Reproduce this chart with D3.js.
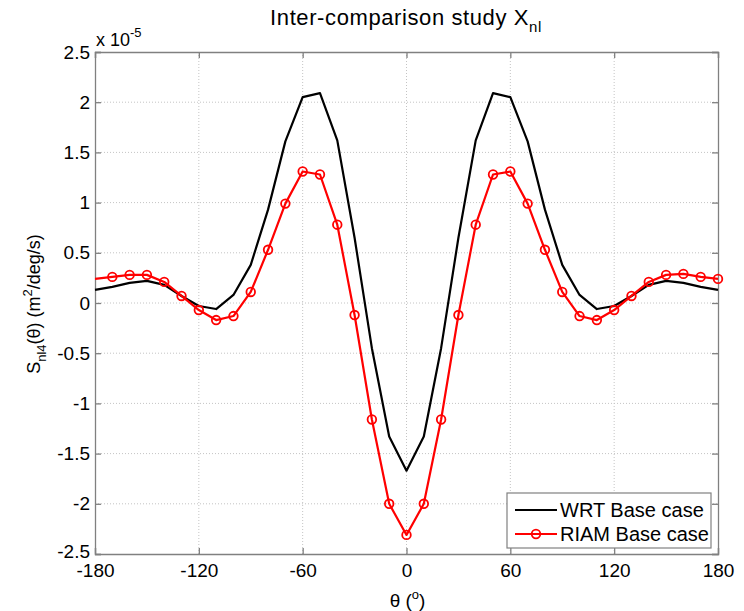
<!DOCTYPE html>
<html>
<head>
<meta charset="utf-8">
<script src="https://cdn.jsdelivr.net/npm/d3@7"></script>
<style>
  body { margin: 0; background: #fff; }
  svg text { font-family: "Liberation Sans", Arial, sans-serif; fill: #000; }
</style>
</head>
<body>
<script>
(function(){

//angles (deg) and the two series, values in units of 1e-5
var angles = [-180,-170,-160,-150,-140,-130,-120,-110,-100,-90,-80,-70,-60,-50,-40,-30,-20,-10,0,
              10,20,30,40,50,60,70,80,90,100,110,120,130,140,150,160,170,180];
var wrtValues = [0.13,0.16,0.20,0.22,0.18,0.07,-0.03,-0.06,0.08,0.38,0.93,1.61,2.05,2.09,1.62,0.65,-0.45,-1.33,-1.67,
                 -1.33,-0.45,0.65,1.62,2.09,2.05,1.61,0.93,0.38,0.08,-0.06,-0.03,0.07,0.18,0.22,0.20,0.16,0.13];
var riamValues = [0.24,0.26,0.28,0.28,0.21,0.07,-0.07,-0.17,-0.13,0.11,0.53,0.99,1.31,1.28,0.78,-0.12,-1.16,-2.0,-2.31,
                  -2.0,-1.16,-0.12,0.78,1.28,1.31,0.99,0.53,0.11,-0.13,-0.17,-0.07,0.07,0.21,0.28,0.29,0.26,0.24];
var xTicks = [-180,-120,-60,0,60,120,180];
var yTicks = [-2.5,-2,-1.5,-1,-0.5,0,0.5,1,1.5,2,2.5];
var seriesNames = ["WRT Base case", "RIAM Base case"];

var width = 744, height = 611;
var margin = {left: 95, right: 26, top: 52, bottom: 57};

var svg = d3.select("body").append("svg")
    .attr("width", width)
    .attr("height", height);

var x = d3.scaleLinear().domain([-180, 180]).range([margin.left, width - margin.right]);
var y = d3.scaleLinear().domain([-2.5, 2.5]).range([height - margin.bottom, margin.top]);

var x0 = x.range()[0], x1 = x.range()[1], y0 = y.range()[0], y1 = y.range()[1];

//grid lines (dotted)
svg.selectAll(".gx").data(xTicks.slice(1, -1)).enter().append("line")
    .attr("x1", function(d){ return x(d); }).attr("x2", function(d){ return x(d); })
    .attr("y1", y0).attr("y2", y1)
    .attr("stroke", "#c4c4c4").attr("stroke-width", 1).attr("stroke-dasharray", "1,2");
svg.selectAll(".gy").data(yTicks.slice(1, -1)).enter().append("line")
    .attr("y1", function(d){ return y(d); }).attr("y2", function(d){ return y(d); })
    .attr("x1", x0).attr("x2", x1)
    .attr("stroke", "#c4c4c4").attr("stroke-width", 1).attr("stroke-dasharray", "1,2");

//axes with inward ticks on all four sides
var fmt = function(d){ return String(d); };
var axB = svg.append("g").attr("transform", "translate(0," + y0 + ")")
    .call(d3.axisBottom(x).tickValues(xTicks).tickSize(-6).tickPadding(10).tickFormat(fmt));
var axT = svg.append("g").attr("transform", "translate(0," + y1 + ")")
    .call(d3.axisTop(x).tickValues(xTicks).tickSize(-6).tickFormat(""));
var axL = svg.append("g").attr("transform", "translate(" + x0 + ",0)")
    .call(d3.axisLeft(y).tickValues(yTicks).tickSize(-6).tickPadding(5).tickFormat(fmt));
var axR = svg.append("g").attr("transform", "translate(" + x1 + ",0)")
    .call(d3.axisRight(y).tickValues(yTicks).tickSize(-6).tickFormat(""));

[axB, axT, axL, axR].forEach(function(a){
  a.selectAll("path").attr("stroke", "#808080").attr("stroke-width", 1.3);
  a.selectAll("line").attr("stroke", "#808080").attr("stroke-width", 1.3);
  a.selectAll("text").attr("font-size", 19).style("font-family", "Liberation Sans, Arial, sans-serif").attr("fill", "#000");
});
axB.selectAll("text").attr("dy", "0.71em");
//the lowest y label sits just above the first x label, as in the original
axL.selectAll("text").filter(function(d){ return d === -2.5; }).attr("dy", "0.2em");

//series
var pts = function(vals){ return angles.map(function(a, i){ return {a: a, v: vals[i]}; }); };
var line = d3.line().x(function(d){ return x(d.a); }).y(function(d){ return y(d.v); });

svg.append("path").datum(pts(wrtValues))
    .attr("fill", "none").attr("stroke", "#000").attr("stroke-width", 2.2)
    .attr("stroke-linejoin", "round").attr("d", line);

var riam = pts(riamValues);
svg.append("path").datum(riam)
    .attr("fill", "none").attr("stroke", "#ff0000").attr("stroke-width", 2.2)
    .attr("stroke-linejoin", "round").attr("d", line);
svg.selectAll(".mk").data(riam.filter(function(d){ return d.a > -180; })).enter().append("circle")
    .attr("cx", function(d){ return x(d.a); }).attr("cy", function(d){ return y(d.v); })
    .attr("r", 4.3).attr("fill", "none").attr("stroke", "#ff0000").attr("stroke-width", 1.8);

//title
var title = svg.append("text").attr("x", 406).attr("y", 25)
    .attr("text-anchor", "middle").attr("font-size", 22).attr("letter-spacing", 0.6);
title.append("tspan").text("Inter-comparison study X");
title.append("tspan").attr("font-size", 15).attr("dy", 7).text("nl");

//exponent label
var ex = svg.append("text").attr("x", x0 + 1).attr("y", 46).attr("font-size", 18);
ex.append("tspan").text("x 10");
ex.append("tspan").attr("font-size", 13).attr("dy", -9).text("-5");

//x label
var xl = svg.append("text").attr("x", (x0 + x1) / 2 + 1).attr("y", 607)
    .attr("text-anchor", "middle").attr("font-size", 19);
xl.append("tspan").text("θ (");
xl.append("tspan").attr("font-size", 13).attr("dy", -8).text("o");
xl.append("tspan").attr("dy", 8).text(")");

//y label
var yl = svg.append("text").attr("transform", "translate(40," + 304 + ") rotate(-90)")
    .attr("text-anchor", "middle").attr("font-size", 18);
yl.append("tspan").text("S");
yl.append("tspan").attr("font-size", 13).attr("dy", 6).text("nl4");
yl.append("tspan").attr("dy", -6).text("(θ) (m");
yl.append("tspan").attr("font-size", 13).attr("dy", -8).text("2");
yl.append("tspan").attr("dy", 8).text("/deg/s)");

//legend
var lg = svg.append("g").attr("transform", "translate(507,493)");
lg.append("rect").attr("width", 204).attr("height", 55)
    .attr("fill", "#fff").attr("stroke", "#808080").attr("stroke-width", 1.2);
var rows = lg.selectAll(".row").data(seriesNames).enter().append("g")
    .attr("transform", function(d, i){ return "translate(0," + (17 + i * 24) + ")"; });
rows.append("line").attr("x1", 8).attr("x2", 50).attr("y1", 0).attr("y2", 0)
    .attr("stroke", function(d, i){ return i ? "#ff0000" : "#000"; }).attr("stroke-width", 2.2);
rows.filter(function(d, i){ return i === 1; }).append("circle")
    .attr("cx", 29).attr("cy", 0).attr("r", 4.3)
    .attr("fill", "none").attr("stroke", "#ff0000").attr("stroke-width", 1.8);
rows.append("text").attr("x", 53).attr("y", 0).attr("dy", "0.35em")
    .attr("font-size", 20).text(function(d){ return d; });

})();
</script>
</body>
</html>
